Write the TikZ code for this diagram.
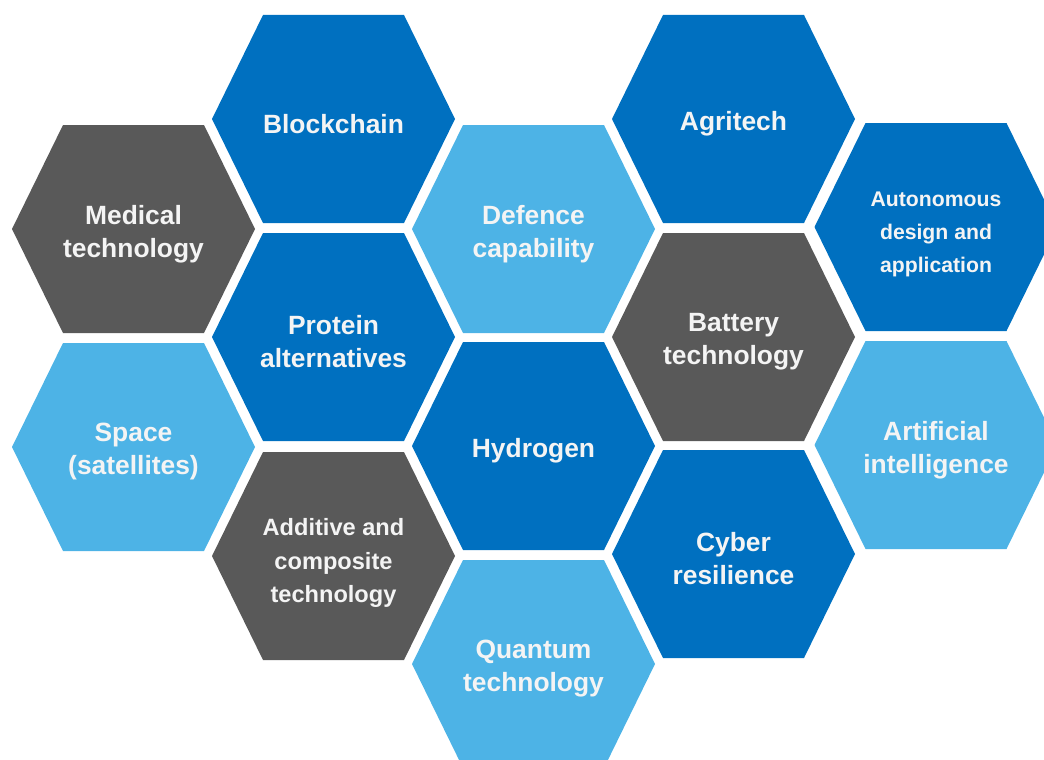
\documentclass[tikz,border=0pt]{standalone}
\usepackage{fontspec}
\setmainfont{Liberation Sans}
\definecolor{celldark}{HTML}{0070C0}
\definecolor{celllight}{HTML}{4DB3E6}
\definecolor{cellgrey}{HTML}{595959}
\definecolor{celltextcol}{HTML}{F4F4F4}
\tikzset{
  celltext/.style={text=celltextcol, align=center, inner sep=0pt, yshift=-5pt,
    font=\bfseries\fontsize{26.4}{33}\selectfont},
  smalltext/.style={font=\bfseries\fontsize{21.2}{33}\selectfont},
  midtext/.style={font=\bfseries\fontsize{23.6}{33.5}\selectfont}
}
% one cell: name, x, y, fill colour, label options, label
\newcommand{\techcell}[6]{%
  \fill[#4] (#2,#3) +(-121.5,0) -- +(-70.5,-104) -- +(70.5,-104)
    -- +(121.5,0) -- +(70.5,104) -- +(-70.5,104) -- cycle;
  \node[celltext,#5] (#1) at (#2,#3) {#6};}
\begin{document}
\begin{tikzpicture}[x=1pt,y=-1pt]
\useasboundingbox (0,0) rectangle (1044,760);
\clip (0,0) rectangle (1044,760);
% first column
\techcell{medical}{133.5}{229}{cellgrey}{}{Medical\\technology}
\techcell{space}{133.5}{447}{celllight}{}{Space\\(satellites)}
% second column
\techcell{blockchain}{333.5}{119}{celldark}{}{Blockchain}
\techcell{protein}{333.5}{337}{celldark}{}{Protein\\alternatives}
\techcell{additive}{333.5}{556}{cellgrey}{midtext,yshift=-2pt}{Additive and\\composite\\technology}
% third column
\techcell{defence}{533.5}{229}{celllight}{}{Defence\\capability}
\techcell{hydrogen}{533.5}{446}{celldark}{}{Hydrogen}
\techcell{quantum}{533.5}{664}{celllight}{}{Quantum\\technology}
% fourth column
\techcell{agritech}{733.5}{119}{celldark}{}{Agritech}
\techcell{battery}{733.5}{337}{cellgrey}{}{Battery\\technology}
\techcell{cyber}{733.5}{554}{celldark}{}{Cyber\\resilience}
% fifth column
\techcell{autonomous}{936}{227}{celldark}{smalltext,yshift=-2pt}{Autonomous\\design and\\application}
\techcell{ai}{936}{445}{celllight}{}{Artificial\\intelligence}
\end{tikzpicture}
\end{document}
